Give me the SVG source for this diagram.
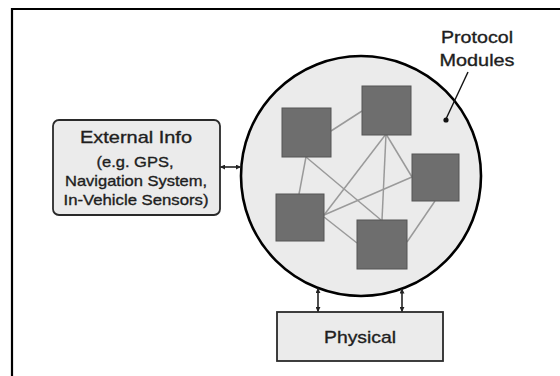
<svg xmlns="http://www.w3.org/2000/svg" width="560" height="376" viewBox="0 0 560 376">
  <defs>
    <style>
      .frame { fill: none; stroke: #000; stroke-width: 2.2; }
      .box { fill: #ebebeb; stroke: #2a2a2a; stroke-width: 1.8; }
      .hub { fill: #ebebeb; stroke: #000; stroke-width: 2.6; }
      .mod { fill: #6e6e6e; stroke: #555; stroke-width: 1; }
      .link { stroke: #9a9a9a; stroke-width: 1.5; fill: none; }
      .conn { stroke: #222; stroke-width: 1.6; fill: none; marker-start: url(#tip); marker-end: url(#tip); }
      .lead { stroke: #111; stroke-width: 1.4; fill: none; }
      text { font-family: "Liberation Sans", Arial, sans-serif; fill: #1e1e1e; stroke: #1e1e1e; stroke-width: 0.35; text-anchor: middle; }
      .big { font-size: 17px; }
      .small { font-size: 15px; }
    </style>
    <marker id="tip" viewBox="0 0 6 6" refX="5.5" refY="3" markerWidth="5" markerHeight="5" markerUnits="userSpaceOnUse" orient="auto-start-reverse">
      <path d="M0,0 L6,3 L0,6 Z" fill="#222"/>
    </marker>
  </defs>

  <rect width="560" height="376" fill="#fff"/>
  <path class="frame" d="M12,376 V9 H560"/>

  <!-- protocol module container -->
  <g id="protocol-modules">
    <circle class="hub" cx="361" cy="176" r="120"/>
    <text class="big" x="477" y="43" textLength="72" lengthAdjust="spacingAndGlyphs">Protocol</text>
    <text class="big" x="477" y="66" textLength="75" lengthAdjust="spacingAndGlyphs">Modules</text>
    <line class="lead" x1="468" y1="72" x2="446" y2="119"/>
    <circle cx="446" cy="120" r="2.6" fill="#111"/>
  </g>

  <!-- links between modules -->
  <g id="module-links">
    <line class="link" x1="331" y1="131" x2="362" y2="111"/>
    <line class="link" x1="306" y1="157" x2="299" y2="194"/>
    <line class="link" x1="306" y1="157" x2="381" y2="220"/>
    <line class="link" x1="386" y1="134" x2="324" y2="215"/>
    <line class="link" x1="386" y1="134" x2="382" y2="220"/>
    <line class="link" x1="386" y1="134" x2="412" y2="177"/>
    <line class="link" x1="412" y1="177" x2="324" y2="215"/>
    <line class="link" x1="435" y1="201" x2="407" y2="242"/>
    <line class="link" x1="324" y1="217" x2="357" y2="243"/>
  </g>

  <g id="module-1"><rect class="mod" x="282" y="108" width="49" height="49"/></g>
  <g id="module-2"><rect class="mod" x="362" y="86" width="49" height="49"/></g>
  <g id="module-3"><rect class="mod" x="412" y="154" width="47" height="47"/></g>
  <g id="module-4"><rect class="mod" x="276" y="194" width="48" height="47"/></g>
  <g id="module-5"><rect class="mod" x="357" y="220" width="50" height="49"/></g>

  <g id="external-info">
    <rect class="box" x="53" y="120" width="167" height="95" rx="6"/>
    <text class="big" x="136" y="143" textLength="112" lengthAdjust="spacingAndGlyphs">External Info</text>
    <text class="small" x="135" y="167" textLength="77" lengthAdjust="spacingAndGlyphs">(e.g. GPS,</text>
    <text class="small" x="136" y="186" textLength="142" lengthAdjust="spacingAndGlyphs">Navigation System,</text>
    <text class="small" x="136" y="205" textLength="145" lengthAdjust="spacingAndGlyphs">In-Vehicle Sensors)</text>
  </g>

  <g id="physical">
    <rect class="box" x="277" y="312" width="166" height="49"/>
    <text class="big" x="360" y="343" textLength="72" lengthAdjust="spacingAndGlyphs">Physical</text>
  </g>

  <!-- connectors -->
  <g id="connectors">
    <line class="conn" x1="220.5" y1="167" x2="240.5" y2="167"/>
    <line class="conn" x1="318" y1="288.5" x2="318" y2="311.5"/>
    <line class="conn" x1="402" y1="289" x2="402" y2="311.5"/>
  </g>
</svg>
